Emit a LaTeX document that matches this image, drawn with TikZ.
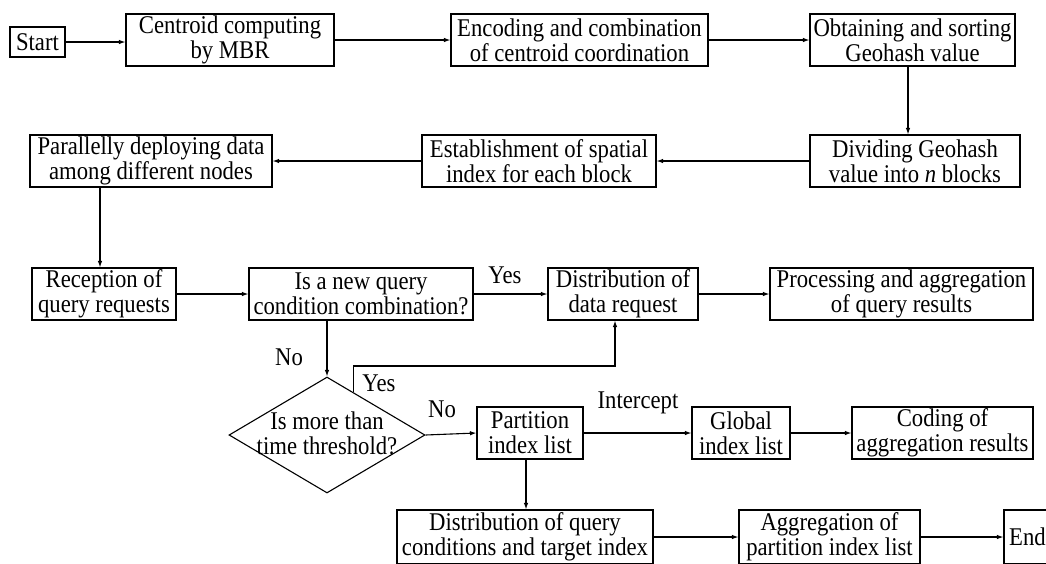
\documentclass[tikz,border=0pt]{standalone}
\usepackage{fontspec}
\setmainfont{Liberation Serif}[FakeStretch=0.89]
\usetikzlibrary{shapes.geometric,arrows.meta,calc}
\begin{document}
\begin{tikzpicture}[x=1pt,y=-1pt,
  box/.style={draw, line width=1.1pt, inner sep=0pt, align=center,
    font=\fontsize{25.5}{25}\selectfont},
  lbl/.style={inner sep=0pt, font=\fontsize{25.5}{25}\selectfont},
  arr/.style={line width=1.1pt, -{Latex[length=6.5pt,width=4.5pt]}},
  ]
\useasboundingbox (0,0) rectangle (1046,563);

% first row
\node[box, minimum width=55pt, minimum height=30pt] (start) at (37.5,42) {Start};
\node[box, minimum width=208pt, minimum height=52pt] (centroid) at (230,40) {Centroid computing\\by MBR};
\node[box, minimum width=257pt, minimum height=52pt] (encoding) at (579.5,40) {Encoding and combination\\of centroid coordination};
\node[box, minimum width=205pt, minimum height=52pt] (obtaining) at (912.5,40) {Obtaining and sorting\\Geohash value};

% second row
\node[box, minimum width=210pt, minimum height=52pt] (dividing) at (915,161) {Dividing Geohash\\value into \textit{n} blocks};
\node[box, minimum width=234pt, minimum height=52pt] (establish) at (539,161) {Establishment of spatial\\index for each block};
\node[box, minimum width=242pt, minimum height=52pt] (parallel) at (151,161) {Parallelly deploying data\\among different nodes};

% third row
\node[box, minimum width=144pt, minimum height=52pt] (reception) at (104,294) {Reception of\\query requests};
\node[box, minimum width=224pt, minimum height=52pt] (query) at (361,294) {Is a new query\\condition combination?};
\node[box, minimum width=150pt, minimum height=52pt] (distdata) at (623,294) {Distribution of\\data request};
\node[box, minimum width=263pt, minimum height=52pt] (process) at (901.5,294) {Processing and aggregation\\of query results};

% decision and fourth row
\node[draw, diamond, line width=1.1pt, inner sep=0pt, minimum width=196pt, minimum height=116pt] (thr) at (327,435) {};
\node[lbl, align=center] (thrtext) at (327,433) {Is more than\\time threshold?};
\node[box, minimum width=106pt, minimum height=52pt] (partition) at (530,433) {Partition\\index list};
\node[box, minimum width=98pt, minimum height=52pt] (global) at (741,433) {Global\\index list};
\node[box, minimum width=181pt, minimum height=52pt] (coding) at (942.5,433) {Coding of\\aggregation results};

% fifth row
\node[box, minimum width=256pt, minimum height=54pt] (distquery) at (525,537) {Distribution of query\\conditions and target index};
\node[box, minimum width=181pt, minimum height=54pt] (aggregation) at (829.5,537) {Aggregation of\\partition index list};
\node[box, minimum width=47pt, minimum height=54pt] (end) at (1027.5,537) {End};

% bend and offset points
\coordinate (od) at (908,0);
\coordinate (pr) at (100,0);
\coordinate (pq) at (526,0);
\coordinate (ys) at ($(thr.north)!0.265!(thr.east)$);
\coordinate (yb) at (615,366);

% connectors
\draw[arr] (start.east) -- (start.east -| centroid.west);
\draw[arr] (centroid.east) -- (encoding.west);
\draw[arr] (encoding.east) -- (obtaining.west);
\draw[arr] (obtaining.south -| od) -- (dividing.north -| od);
\draw[arr] (dividing.west) -- (establish.east);
\draw[arr] (establish.west) -- (parallel.east);
\draw[arr] (parallel.south -| pr) -- (reception.north -| pr);
\draw[arr] (reception.east) -- (query.west);
\draw[arr] (query.east) -- (distdata.west);
\draw[arr] (distdata.east) -- (process.west);
\draw[arr] (query.south -| thr.north) -- (thr.north);
\draw[arr] (ys) |- (yb) -- (distdata.south -| yb);
\draw[arr] (thr.east) -- (partition.west);
\draw[arr] (partition.east) -- (global.west);
\draw[arr] (global.east) -- (coding.west);
\draw[arr] (partition.south -| pq) -- (distquery.north -| pq);
\draw[arr] (distquery.east) -- (aggregation.west);
\draw[arr] (aggregation.east) -- (end.west);

% branch labels
\node[lbl] (yes1) at (505,275) {Yes};
\node[lbl] (no1) at (289,357) {No};
\node[lbl] (yes2) at (379,383) {Yes};
\node[lbl] (no2) at (442,409) {No};
\node[lbl] (intercept) at (638,403) {Intercept};
\end{tikzpicture}
\end{document}
